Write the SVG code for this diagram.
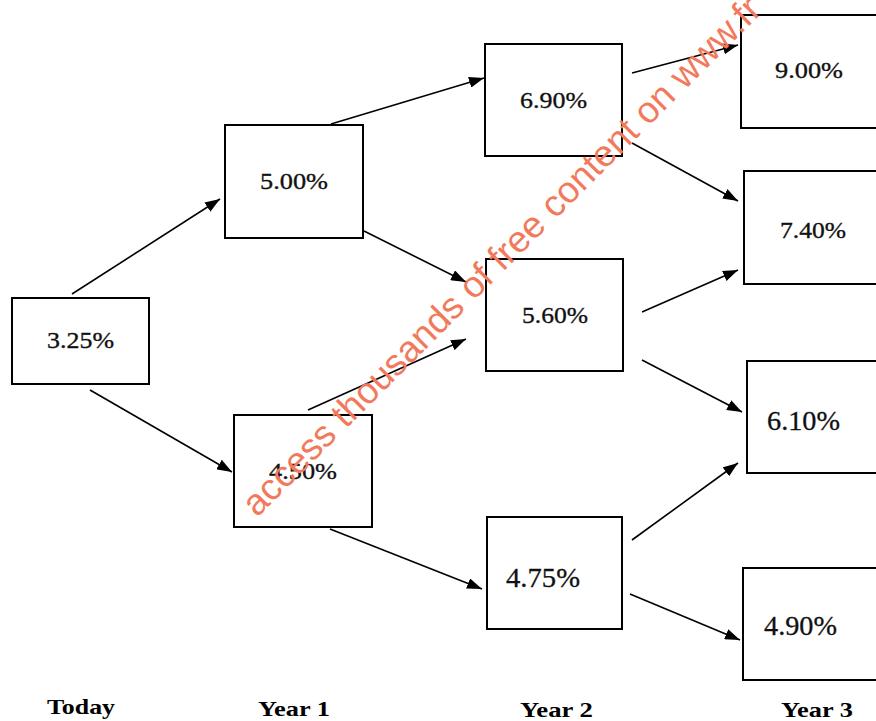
<svg xmlns="http://www.w3.org/2000/svg" width="876" height="721" viewBox="0 0 876 721">
<style>
.box{fill:#fff;stroke:#000;stroke-width:2}
.v{font-size:24px;fill:#111;stroke:#111;stroke-width:0.35}
.vb{font-size:27px;fill:#111;stroke:#111;stroke-width:0.3}
.lbl{font-size:22px;font-weight:bold;fill:#000}
.con line{stroke:#000;stroke-width:1.6;marker-end:url(#ah)}
.wm{font-size:37px;fill:#F27A5C}
</style>
<defs>
<marker id="ah" markerUnits="userSpaceOnUse" markerWidth="15" markerHeight="11" refX="15" refY="5.5" orient="auto">
<path d="M0,0 L15,5.5 L0,11 z" fill="#000"/>
</marker>
</defs>
<rect width="876" height="721" fill="#fff"/>
<g id="connectors" class="con">
<line x1="72" y1="294" x2="220" y2="199"/>
<line x1="90" y1="390" x2="232" y2="472"/>
<line x1="331" y1="124" x2="484" y2="78"/>
<line x1="364" y1="231" x2="466" y2="282"/>
<line x1="308" y1="410" x2="466" y2="339"/>
<line x1="330" y1="529" x2="482" y2="589"/>
<line x1="632" y1="73" x2="738" y2="45"/>
<line x1="632" y1="143" x2="738" y2="201"/>
<line x1="642" y1="312" x2="738" y2="270"/>
<line x1="642" y1="360" x2="742" y2="412"/>
<line x1="632" y1="540" x2="738" y2="463"/>
<line x1="630" y1="594" x2="740" y2="640"/>
</g>
<g font-family="'Liberation Serif', 'Times New Roman', serif">
<g id="n_today">
<rect class="box" x="12" y="298" width="137" height="86"/>
<text class="v" x="47" y="348" textLength="67" lengthAdjust="spacingAndGlyphs">3.25%</text>
</g>
<g id="n_y1_up">
<rect class="box" x="225" y="125" width="138" height="113"/>
<text class="v" x="260" y="189" textLength="68" lengthAdjust="spacingAndGlyphs">5.00%</text>
</g>
<g id="n_y1_down">
<rect class="box" x="234" y="415" width="138" height="112"/>
<text class="v" x="269" y="479" textLength="68" lengthAdjust="spacingAndGlyphs">4.50%</text>
</g>
<g id="n_y2_a">
<rect class="box" x="485" y="44" width="137" height="112"/>
<text class="v" x="520" y="108" textLength="67" lengthAdjust="spacingAndGlyphs">6.90%</text>
</g>
<g id="n_y2_b">
<rect class="box" x="486" y="259" width="137" height="112"/>
<text class="v" x="522" y="323" textLength="66" lengthAdjust="spacingAndGlyphs">5.60%</text>
</g>
<g id="n_y2_c">
<rect class="box" x="487" y="517" width="135" height="112"/>
<text class="vb" x="506" y="587" textLength="74" lengthAdjust="spacingAndGlyphs">4.75%</text>
</g>
<g id="n_y3_a">
<rect class="box" x="741" y="15" width="145" height="113"/>
<text class="v" x="775" y="78" textLength="68" lengthAdjust="spacingAndGlyphs">9.00%</text>
</g>
<g id="n_y3_b">
<rect class="box" x="744" y="171" width="142" height="113"/>
<text class="v" x="780" y="238" textLength="66" lengthAdjust="spacingAndGlyphs">7.40%</text>
</g>
<g id="n_y3_c">
<rect class="box" x="747" y="361" width="139" height="112"/>
<text class="vb" x="767" y="430" textLength="73" lengthAdjust="spacingAndGlyphs">6.10%</text>
</g>
<g id="n_y3_d">
<rect class="box" x="743" y="568" width="143" height="112"/>
<text class="vb" x="764" y="635" textLength="73" lengthAdjust="spacingAndGlyphs">4.90%</text>
</g>
<g id="labels">
<text class="lbl" x="47" y="714" textLength="68" lengthAdjust="spacingAndGlyphs">Today</text>
<text class="lbl" x="258" y="716" textLength="72" lengthAdjust="spacingAndGlyphs">Year 1</text>
<text class="lbl" x="520" y="717" textLength="73" lengthAdjust="spacingAndGlyphs">Year 2</text>
<text class="lbl" x="781" y="717" textLength="72" lengthAdjust="spacingAndGlyphs">Year 3</text>
</g>
</g>
<text class="wm" font-family="'Liberation Sans', Arial, sans-serif" transform="translate(257,518) rotate(-45)">access thousands of free content on www.fr</text>
</svg>
